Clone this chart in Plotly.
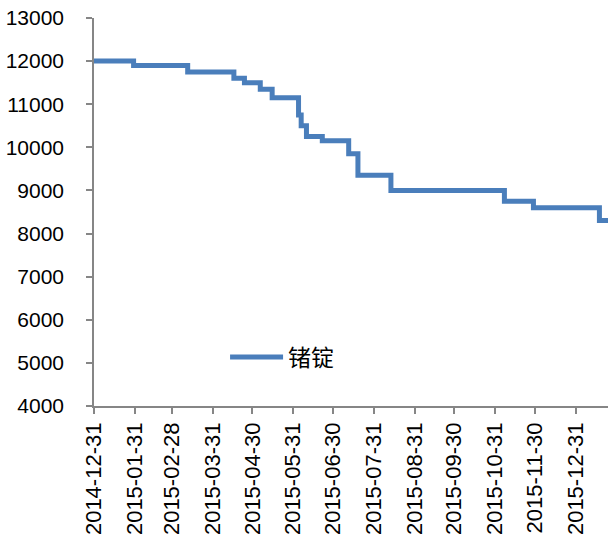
import plotly.graph_objects as go

dates = ["2014-12-31", "2015-01-30", "2015-03-12", "2015-04-16", "2015-04-24",
         "2015-05-06", "2015-05-15", "2015-06-04", "2015-06-06", "2015-06-10",
         "2015-06-22", "2015-07-12", "2015-07-19", "2015-08-13", "2015-11-07",
         "2015-11-29", "2016-01-18", "2016-01-25"]
values = [12000, 11900, 11750, 11600, 11500, 11350, 11150, 10750, 10500, 10250,
          10150, 9850, 9350, 9000, 8750, 8600, 8300, 8300]

tick_dates = ["2014-12-31", "2015-01-31", "2015-02-28", "2015-03-31", "2015-04-30",
              "2015-05-31", "2015-06-30", "2015-07-31", "2015-08-31", "2015-09-30",
              "2015-10-31", "2015-11-30", "2015-12-31"]
y_ticks = [4000, 5000, 6000, 7000, 8000, 9000, 10000, 11000, 12000, 13000]
y_labels = [str(v) for v in y_ticks]

font_family = "Liberation Sans, Noto Sans CJK SC, sans-serif"
axis_color = "#868686"

fig = go.Figure()
fig.add_trace(go.Scatter(
    x=dates, y=values, mode="lines", name="锗锭",
    line=dict(color="#4A7EBB", width=5, shape="hv"),
))

fig.update_layout(
    width=608, height=535,
    margin=dict(l=94, r=0, t=18, b=129, autoexpand=False),
    paper_bgcolor="white", plot_bgcolor="white",
    font=dict(family=font_family, size=20, color="black"),
    showlegend=True,
    legend=dict(x=0.255, y=0.126, xanchor="left", yanchor="middle",
                bgcolor="rgba(0,0,0,0)", font=dict(size=23), itemwidth=53),
    xaxis=dict(
        type="date",
        range=["2014-12-31", "2016-01-24 12:00"],
        tickvals=tick_dates, ticktext=tick_dates,
        tickangle=-90,
        automargin=False,
        showgrid=False, zeroline=False,
        showline=True, linecolor=axis_color, linewidth=1.5,
        ticks="outside", ticklen=6, tickcolor=axis_color, tickwidth=1.5,
        tickfont=dict(size=22),
    ),
    yaxis=dict(
        range=[4000, 13000],
        tickvals=y_ticks, ticktext=y_labels,
        automargin=False,
        showgrid=False, zeroline=False,
        showline=True, linecolor=axis_color, linewidth=1.5,
        ticks="outside", ticklen=6, tickcolor=axis_color, tickwidth=1.5,
        tickfont=dict(size=21),
        ticklabelstandoff=18,
    ),
)

fig.write_html(
    "out.html",
    config={"displayModeBar": False},
    post_script="document.body.style.margin='0';document.body.style.overflow='hidden';",
)
